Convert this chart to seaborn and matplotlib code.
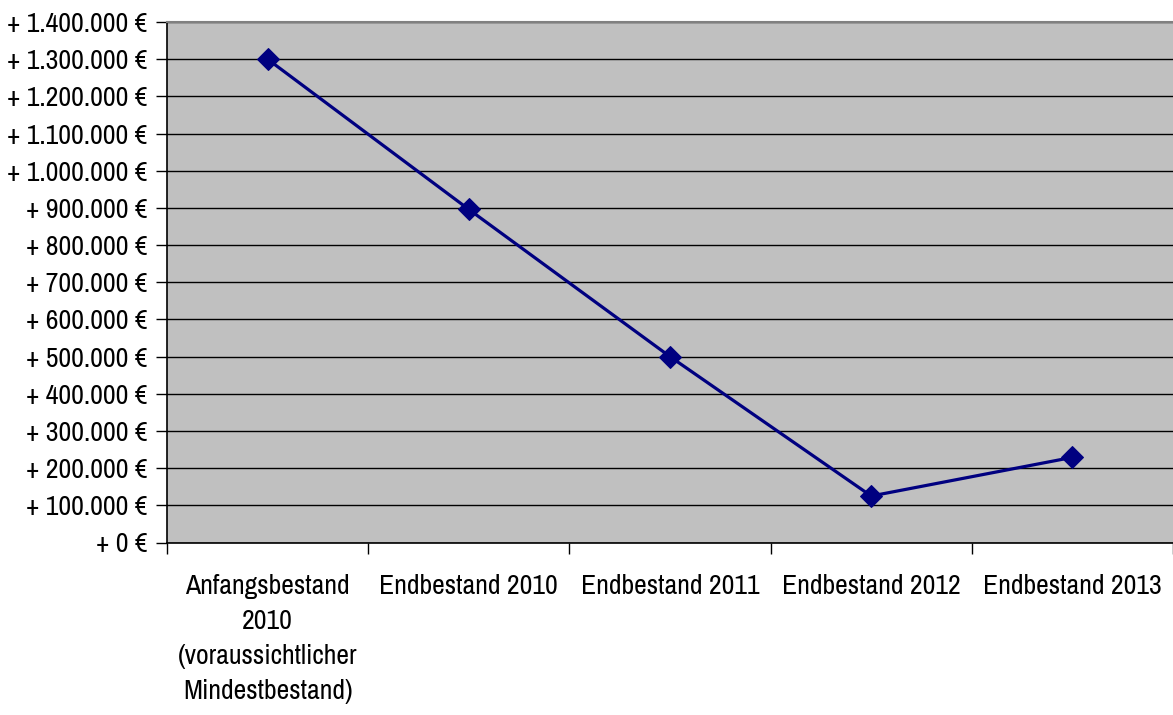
import matplotlib
matplotlib.use("Agg")
import matplotlib.pyplot as plt
import matplotlib.ticker as mticker
import seaborn as sns
import pandas as pd
from matplotlib import font_manager

categories = [
    "Anfangsbestand\n2010\n(voraussichtlicher\nMindestbestand)",
    "Endbestand 2010",
    "Endbestand 2011",
    "Endbestand 2012",
    "Endbestand 2013",
]
values = [1300000, 896000, 500000, 125000, 229000]
y_ticks = list(range(0, 1400001, 100000))

sns.set_theme(style="white")
names = {f.name for f in font_manager.fontManager.ttflist}
fam = [f for f in ["Archivo Narrow", "Roboto Condensed", "Liberation Sans", "DejaVu Sans"] if f in names]
plt.rcParams["font.family"] = fam
plt.rcParams["text.color"] = "black"
plt.rcParams["xtick.color"] = "black"
plt.rcParams["ytick.color"] = "black"

df = pd.DataFrame({"pos": range(len(categories)), "value": values})

fig = plt.figure(figsize=(11.73, 7.15), dpi=100)
ax = fig.add_axes([167 / 1173, 1 - 542.5 / 715, 1 - 167 / 1173, (542.5 - 22) / 715])
ax.set_facecolor("#C0C0C0")

sns.lineplot(data=df, x="pos", y="value", ax=ax, color="#000080", linewidth=2.3,
             marker="D", markersize=11, markeredgecolor="#000080", zorder=3)

ax.set_xlim(-0.5, len(categories) - 0.5)
ax.set_ylim(0, 1400000)
ax.set_yticks(y_ticks)
ax.yaxis.set_major_formatter(mticker.FuncFormatter(
    lambda v, p: "+ " + f"{int(v):,}".replace(",", ".") + " €"))
ax.grid(axis="y", color="black", linewidth=1)
ax.set_axisbelow(True)

ax.set_xticks([i - 0.5 for i in range(len(categories) + 1)])
ax.set_xticklabels([])
ax.set_xticks(range(len(categories)), minor=True)
ax.set_xticklabels(categories, minor=True, fontsize=20, linespacing=1.5)
ax.tick_params(axis="x", which="minor", length=0, pad=23, labelcolor="black")
ax.tick_params(axis="x", which="major", length=8, width=1, color="black", direction="out")
ax.tick_params(axis="y", which="major", length=8, width=1, color="black", direction="out",
               labelsize=20, pad=6, labelcolor="black")
ax.tick_params(axis="both", bottom=True, left=True)
ax.set_xlabel("")
ax.set_ylabel("")

for s in ["left", "bottom"]:
    ax.spines[s].set_color("black")
    ax.spines[s].set_linewidth(1.2)
ax.spines["top"].set_color("#808080")
ax.spines["top"].set_linewidth(1.5)
ax.spines["right"].set_visible(False)

fig.savefig("out.png", dpi=100, facecolor="white")
